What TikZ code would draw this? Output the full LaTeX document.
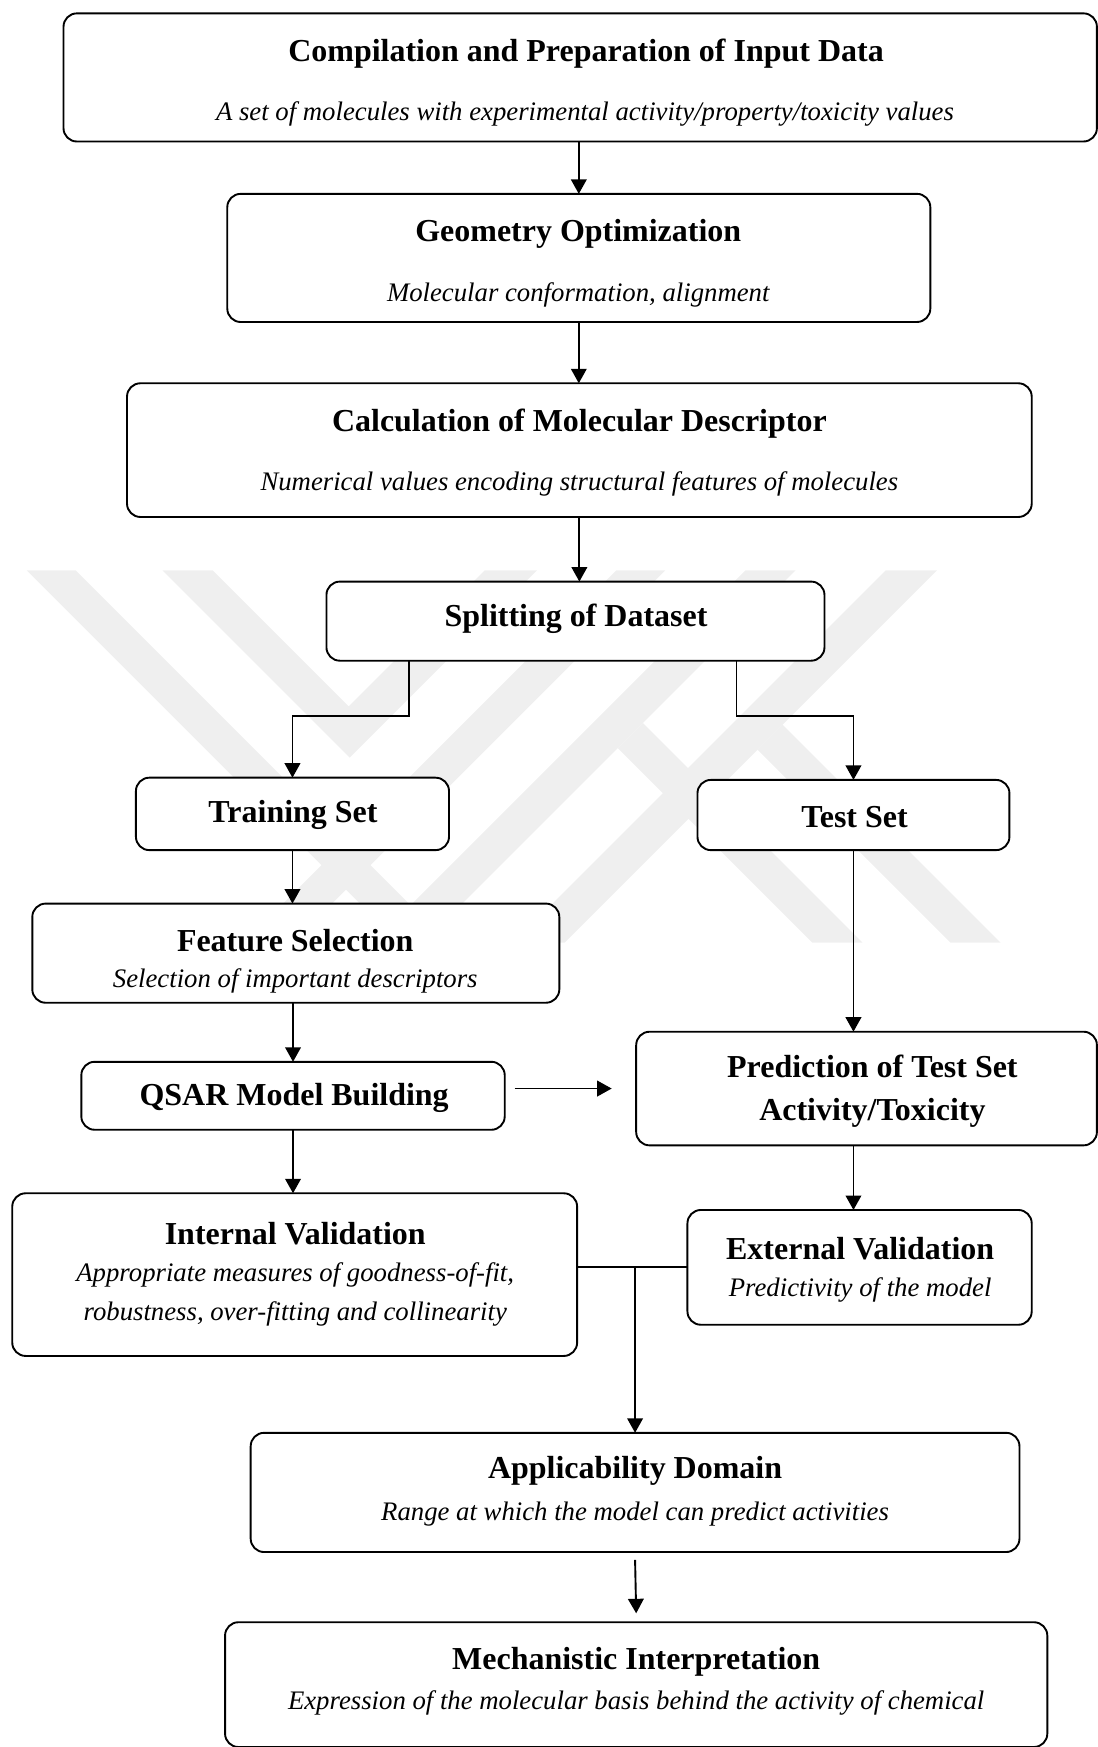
\documentclass[tikz,border=0pt]{standalone}
\usepackage{fontspec}
\setmainfont{Liberation Serif}
\usetikzlibrary{arrows.meta,calc}
\definecolor{wm}{RGB}{239,239,239}
\begin{document}
\begin{tikzpicture}[x=1pt,y=-1pt,
  box/.style={draw=black, line width=1.7pt, rounded corners=12pt, fill=white, inner sep=0pt, outer sep=0pt},
  ttl/.style={font=\fontsize{28.7}{38}\selectfont\bfseries, inner sep=0pt, align=center, yshift=-2.5pt},
  sub/.style={font=\fontsize{24}{35}\selectfont\itshape, inner sep=0pt, align=center, yshift=-2.5pt},
  arr/.style={line width=1.7pt, -{Triangle[length=13pt,width=14pt]}},
  ln/.style={line width=1.7pt}]
\useasboundingbox (0,0) rectangle (985,1568);
% watermark
\fill[wm] (24,512) -- (68,512) -- (402,846) -- (358,846) -- cycle;
\fill[wm] (146,512) -- (191,512) -- (313,634) -- (435,512) -- (482,512) -- (314,680) -- cycle;
\fill[wm] (553,512) -- (597,512) -- (263,846) -- (219,846) -- cycle;
\fill[wm] (669,512) -- (714,512) -- (380,846) -- (335,846) -- cycle;
\fill[wm] (795,512) -- (841,512) -- (507,846) -- (461,846) -- cycle;
\fill[wm] (554.5,671.5) -- (577,649) -- (774,846) -- (729,846) -- cycle;
\fill[wm] (680,673) -- (702.5,650.5) -- (898,846) -- (853,846) -- cycle;
% boxes
\node[box, minimum width=927.5pt, minimum height=115pt] (b1) at (520.75,69.5) {};
\node[box, minimum width=631pt, minimum height=115pt] (b2) at (519.5,231.5) {};
\node[box, minimum width=812pt, minimum height=120pt] (b3) at (520,404) {};
\node[box, minimum width=447pt, minimum height=71pt] (b4) at (516.5,557.5) {};
\node[box, minimum width=281pt, minimum height=65pt] (b5) at (262.5,730.5) {};
\node[box, minimum width=280pt, minimum height=63pt] (b6) at (766,731.5) {};
\node[box, minimum width=473pt, minimum height=89pt] (b7) at (265.5,855.5) {};
\node[box, minimum width=380pt, minimum height=61pt] (b8) at (263,983.5) {};
\node[box, minimum width=413.5pt, minimum height=102pt] (b9) at (777.75,977) {};
\node[box, minimum width=507pt, minimum height=146pt] (b10) at (264.5,1144) {};
\node[box, minimum width=309pt, minimum height=103pt] (b11) at (771.5,1137.5) {};
\node[box, minimum width=690pt, minimum height=107pt] (b12) at (570,1339.5) {};
\node[box, minimum width=738pt, minimum height=112pt] (b13) at (571,1512) {};
% texts
\node[ttl] (t1a) at (526,46) {Compilation and Preparation of Input Data};
\node[sub] (t1b) at (525,100) {A set of molecules with experimental activity/property/toxicity values};
\node[ttl] (t2a) at (519,207) {Geometry Optimization};
\node[sub] (t2b) at (519,262) {Molecular conformation, alignment};
\node[ttl] (t3a) at (520,378) {Calculation of Molecular Descriptor};
\node[sub] (t3b) at (520,432) {Numerical values encoding structural features of molecules};
\node[ttl] (t4) at (517,553) {Splitting of Dataset};
\node[ttl] (t5) at (263,729) {Training Set};
\node[ttl] (t6) at (767,731) {Test Set};
\node[ttl] (t7a) at (265,842) {Feature Selection};
\node[sub] (t7b) at (265,878) {Selection of important descriptors};
\node[ttl] (t8) at (264,983) {QSAR Model Building};
\node[ttl] (t9) at (783,977) {Prediction of Test Set\\Activity/Toxicity};
\node[ttl] (t10a) at (265,1105) {Internal Validation};
\node[sub] (t10b) at (265,1159.5) {Appropriate measures of goodness-of-fit,\\robustness, over-fitting and collinearity};
\node[ttl] (t11a) at (772,1118) {External Validation};
\node[sub] (t11b) at (772,1155) {Predictivity of the model};
\node[ttl] (t12a) at (570,1318) {Applicability Domain};
\node[sub] (t12b) at (570,1356) {Range at which the model can predict activities};
\node[ttl] (t13a) at (571,1489) {Mechanistic Interpretation};
\node[sub] (t13b) at (571,1526) {Expression of the molecular basis behind the activity of chemical};
% connectors
\draw[arr] (b2.north |- b1.south) -- (b2.north);
\draw[arr] (b2.south) -- (b2.south |- b3.north);
\draw[arr] (b3.south) -- (b3.south |- b4.north);
\coordinate (sl) at ([xshift=74pt]b4.south west);
\coordinate (sr) at ([xshift=-79pt]b4.south east);
\draw[arr] (sl) -- ++(0,50) -| (b5.north);
\draw[arr] (sr) -- ++(0,50) -| (b6.north);
\draw[arr] (b5.south) -- (b5.south |- b7.north);
\draw[arr] (b8.north |- b7.south) -- (b8.north);
\draw[arr] (b8.south) -- (b8.south |- b10.north);
\draw[arr] (b6.south) -- (b6.south |- b9.north);
\draw[arr] (b6.south |- b9.south) -- (b6.south |- b11.north);
\coordinate (qa) at ([xshift=9pt]b8.east);
\coordinate (qb) at ([xshift=-22pt]b9.west);
\draw[arr] (qa |- qb) -- (qb);
\draw[ln] (b10.east |- b11.west) -- (b11.west);
\coordinate (j) at (b12.north |- b11.west);
\draw[arr] (j) -- (b12.north);
\draw[arr] ([yshift=-7pt]b12.south) -- ([yshift=8pt]b13.north);
\end{tikzpicture}
\end{document}
